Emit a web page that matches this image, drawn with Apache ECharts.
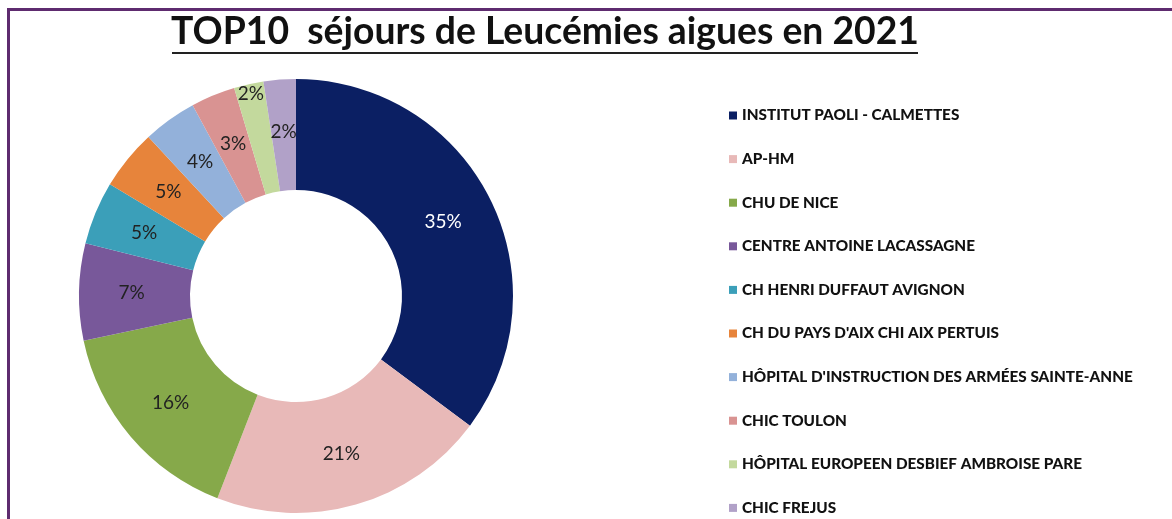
<!DOCTYPE html>
<html lang="fr">
<head>
    <meta charset="UTF-8">
    <title>TOP10 séjours de Leucémies aigues en 2021</title>
    <script src="https://cdn.jsdelivr.net/npm/echarts@6/dist/echarts.min.js"></script>
    <style>
        body { margin: 0; background: #fff; }
        #frame {
            position: absolute; top: 8px; left: 7px; right: 0; bottom: 0;
            border-top: 3px solid #5e2b6f; border-left: 3px solid #5e2b6f;
            pointer-events: none; z-index: 2;
        }
        #main { position: absolute; top: 0; left: 0; width: 1172px; height: 519px; }
    </style>
</head>
<body>
    <div id="main"></div>
    <div id="frame"></div>
    <script>
        // data (share of stays, %)
        var etablissements = [
            'INSTITUT PAOLI - CALMETTES',
            'AP-HM',
            'CHU DE NICE',
            'CENTRE ANTOINE LACASSAGNE',
            'CH HENRI DUFFAUT AVIGNON',
            "CH DU PAYS D'AIX CHI AIX PERTUIS",
            "HÔPITAL D'INSTRUCTION DES ARMÉES SAINTE-ANNE",
            'CHIC TOULON',
            'HÔPITAL EUROPEEN DESBIEF AMBROISE PARE',
            'CHIC FREJUS'
        ];
        var parts = [35.2, 20.7, 15.8, 7.2, 4.7, 4.5, 4.0, 3.3, 2.2, 2.4];
        var couleurs = ['#0b1f63', '#e8b9b8', '#86a94a', '#78589a', '#3b9fb9',
                        '#e7843b', '#93b1da', '#d99392', '#c3d99d', '#b1a1c8'];
        // the one label Excel pushed out of its slice
        var labelDehors = 8;

        var chartDom = document.getElementById('main');
        var myChart = echarts.init(chartDom);

        var pctLabel = function (p) { return Math.round(p.percent) + '%'; };

        var seriesData = etablissements.map(function (name, i) {
            return {
                name: name,
                value: parts[i],
                label: { show: i !== labelDehors, color: i === 0 ? '#ffffff' : '#222' }
            };
        });
        // same slices, invisible and wider, only to place the outer label
        var ghostData = etablissements.map(function (name, i) {
            return { name: name, value: parts[i], label: { show: i === labelDehors } };
        });

        var titleText = 'TOP10  séjours de Leucémies aigues en 2021';

        var option = {
            animation: false,
            color: couleurs,
            title: {
                text: '{t|' + titleText + '}\n{u|}',
                left: 545,
                textAlign: 'center',
                top: 13,
                padding: 0,
                textStyle: {
                    rich: {
                        t: { fontFamily: 'Lato', fontWeight: 'bold', fontSize: 37.3, color: '#111', lineHeight: 38 },
                        u: { width: 746, height: 2, backgroundColor: '#222', lineHeight: 4 }
                    }
                }
            },
            legend: {
                orient: 'vertical',
                left: 729,
                top: 108,
                height: 440,
                padding: 0,
                itemWidth: 8,
                itemHeight: 8,
                itemGap: 28.6,
                icon: 'rect',
                data: etablissements,
                textStyle: {
                    fontFamily: 'Lato',
                    fontWeight: 900,
                    fontSize: 15.3,
                    color: '#111',
                    lineHeight: 14
                }
            },
            series: [{
                type: 'pie',
                center: [296, 296],
                radius: [106, 217],
                startAngle: 90,
                clockwise: true,
                avoidLabelOverlap: false,
                label: {
                    position: 'inside',
                    fontFamily: 'Lato',
                    fontSize: 19,
                    formatter: pctLabel
                },
                labelLine: { show: false },
                itemStyle: { borderWidth: 0 },
                emphasis: { disabled: true },
                data: seriesData
            }, {
                type: 'pie',
                center: [296, 296],
                radius: [106, 302],
                startAngle: 90,
                clockwise: true,
                silent: true,
                z: 3,
                avoidLabelOverlap: false,
                itemStyle: { color: 'rgba(0,0,0,0)', borderWidth: 0 },
                label: {
                    position: 'inside',
                    fontFamily: 'Lato',
                    fontSize: 19,
                    color: '#222',
                    formatter: pctLabel
                },
                labelLine: { show: false },
                emphasis: { disabled: true },
                data: ghostData
            }]
        };

        myChart.setOption(option);
    </script>
</body>
</html>
